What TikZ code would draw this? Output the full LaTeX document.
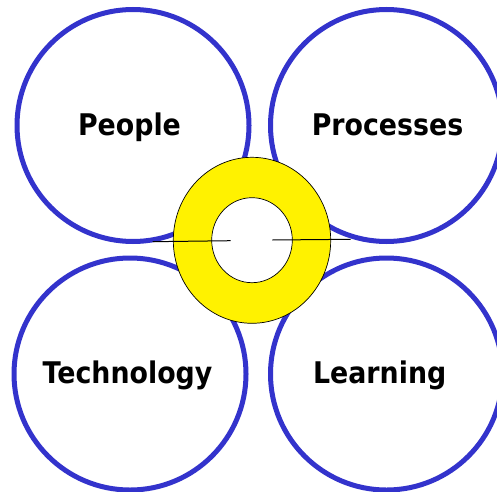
\documentclass[tikz,border=0pt]{standalone}
\usepackage{fontspec}
\setmainfont{DejaVu Sans}[FakeStretch=0.9]
\usetikzlibrary{shapes.geometric}
\definecolor{ringblue}{RGB}{51,51,204}
\tikzset{
  petal/.style={circle, draw=ringblue, line width=5pt, minimum size=232pt, inner sep=0pt, fill=white},
  petallabel/.style={font=\bfseries\fontsize{29.8}{32}\selectfont, anchor=base, inner sep=0pt},
  ringouter/.style={ellipse, draw=black, line width=0.7pt, fill=yellow, minimum width=157.4pt, minimum height=166pt, inner sep=0pt},
  ringinner/.style={ellipse, draw=black, line width=0.7pt, fill=white, minimum width=80.6pt, minimum height=85pt, inner sep=0pt},
  tick/.style={draw=black, line width=1pt}
}
\begin{document}
\begin{tikzpicture}[x=1pt,y=1pt]
\useasboundingbox (0,0) rectangle (497,491);
\node[petal] (people) at (133,365.5) {};
\node[petal] (processes) at (386.5,365.5) {};
\node[petal] (technology) at (130,117) {};
\node[petal] (learning) at (386.5,117) {};
\node[petallabel] (peopleT) at (129.5,356) {People};
\node[petallabel] (processesT) at (387.5,356) {Processes};
\node[petallabel] (technologyT) at (127.5,108) {Technology};
\node[petallabel] (learningT) at (379.7,108) {Learning};
\node[ringouter] (ring) at (252,250.7) {};
\node[ringinner] (hole) at (252,250.8) {};
\coordinate (l1) at (152.7,249.3);
\coordinate (l2) at (230.7,250.3);
\coordinate (r1) at (272.3,251);
\coordinate (r2) at (350.7,251.7);
\draw[tick] (l1) -- (l2);
\draw[tick] (r1) -- (r2);
\end{tikzpicture}
\end{document}
